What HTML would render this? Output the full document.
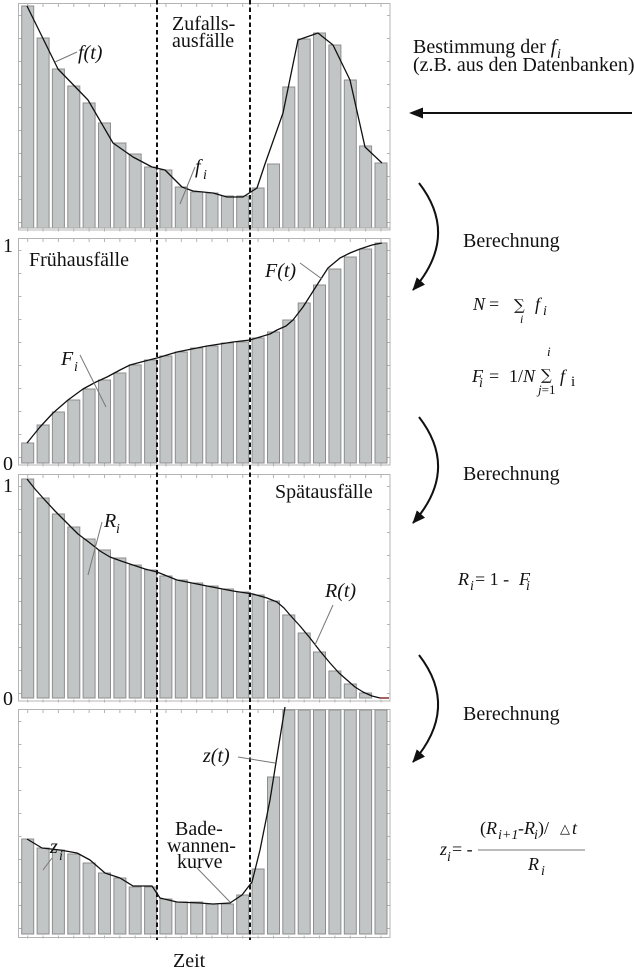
<!DOCTYPE html>
<html><head><meta charset="utf-8"><style>
html,body{margin:0;padding:0;background:#fff;}
svg{display:block}
text{font-family:"Liberation Serif","DejaVu Serif",serif;fill:#111}
.it{font-style:italic}
.lab{font-size:20px}
.sub{font-size:14px;font-style:italic}
.fm{font-size:18px}
.sig{font-family:"DejaVu Serif",serif;font-size:15px}
.bar rect{fill:#c2c5c5;stroke:#8e8e8e;stroke-width:1}
.frame{fill:none;stroke:#b4b4b4;stroke-width:1}
.tick{stroke:#b4b4b4;fill:none}
.curve{fill:none;stroke:#111;stroke-width:1.3;stroke-linejoin:round}
.lead{stroke:#777;stroke-width:1}
.dash{stroke:#111;stroke-width:2;stroke-dasharray:4.5 3}
</style></head><body>
<svg width="634" height="970" viewBox="0 0 634 970" xmlns="http://www.w3.org/2000/svg">
<defs>
<marker id="ah" markerUnits="userSpaceOnUse" markerWidth="14" markerHeight="11" refX="12" refY="5.5" orient="auto">
<path d="M0,0 L13,5.5 L0,11 z" fill="#111"/>
</marker>
</defs>

<!-- Frames -->
<rect class="frame" x="18.5" y="3.5" width="371.5" height="226.5"/>
<rect class="frame" x="18.5" y="238.5" width="371.5" height="226.5"/>
<rect class="frame" x="18.5" y="474.5" width="371.5" height="226.5"/>
<rect class="frame" x="18.5" y="709.5" width="371.5" height="228"/>

<!-- ticks -->
<g class="tick">
<line x1="27.2" y1="5.5" x2="389" y2="5.5" stroke-width="3" stroke-dasharray="1 14.36"/>
<line x1="27.2" y1="230" x2="389" y2="230" stroke-width="3" stroke-dasharray="1 14.36"/>
<line x1="27.2" y1="240.5" x2="389" y2="240.5" stroke-width="3" stroke-dasharray="1 14.36"/>
<line x1="27.2" y1="465" x2="389" y2="465" stroke-width="3" stroke-dasharray="1 14.36"/>
<line x1="27.2" y1="476.5" x2="389" y2="476.5" stroke-width="3" stroke-dasharray="1 14.36"/>
<line x1="27.2" y1="701" x2="389" y2="701" stroke-width="3" stroke-dasharray="1 14.36"/>
<line x1="27.2" y1="711.5" x2="389" y2="711.5" stroke-width="3" stroke-dasharray="1 14.36"/>
<line x1="27.2" y1="937" x2="389" y2="937" stroke-width="3" stroke-dasharray="1 14.36"/>
<line x1="388.5" y1="15" x2="388.5" y2="228" stroke-width="3" stroke-dasharray="1 22"/>
<line x1="20" y1="15" x2="20" y2="228" stroke-width="3" stroke-dasharray="1 22"/>
<line x1="388.5" y1="250" x2="388.5" y2="463" stroke-width="3" stroke-dasharray="1 22"/>
<line x1="20" y1="250" x2="20" y2="463" stroke-width="3" stroke-dasharray="1 22"/>
<line x1="388.5" y1="486" x2="388.5" y2="699" stroke-width="3" stroke-dasharray="1 22"/>
<line x1="20" y1="486" x2="20" y2="699" stroke-width="3" stroke-dasharray="1 22"/>
<line x1="388.5" y1="721" x2="388.5" y2="935" stroke-width="3" stroke-dasharray="1 22"/>
<line x1="20" y1="721" x2="20" y2="935" stroke-width="3" stroke-dasharray="1 22"/>
</g>

<!-- Panel 1 bars (bottom 228) -->
<g class="bar">
<rect x="21.7" y="6" width="12" height="222"/>
<rect x="37.1" y="38" width="12" height="190"/>
<rect x="52.4" y="69" width="12" height="159"/>
<rect x="67.8" y="86" width="12" height="142"/>
<rect x="83.1" y="103" width="12" height="125"/>
<rect x="98.5" y="123" width="12" height="105"/>
<rect x="113.9" y="143" width="12" height="85"/>
<rect x="129.2" y="154" width="12" height="74"/>
<rect x="144.6" y="167" width="12" height="61"/>
<rect x="159.9" y="170" width="12" height="58"/>
<rect x="175.3" y="187" width="12" height="41"/>
<rect x="190.7" y="192" width="12" height="36"/>
<rect x="206.0" y="193" width="12" height="35"/>
<rect x="221.4" y="196" width="12" height="32"/>
<rect x="236.7" y="196" width="12" height="32"/>
<rect x="252.1" y="188" width="12" height="40"/>
<rect x="267.5" y="164" width="12" height="64"/>
<rect x="282.8" y="87" width="12" height="141"/>
<rect x="298.2" y="39" width="12" height="189"/>
<rect x="313.5" y="33" width="12" height="195"/>
<rect x="328.9" y="45" width="12" height="183"/>
<rect x="344.3" y="80" width="12" height="148"/>
<rect x="359.6" y="146" width="12" height="82"/>
<rect x="375.0" y="163" width="12" height="65"/>
</g>
<line x1="18" y1="228" x2="390" y2="228" stroke="#aaa" stroke-width="1"/>

<!-- Panel 2 bars (bottom 463) -->
<g class="bar">
<rect x="21.7" y="443" width="12" height="20"/>
<rect x="37.1" y="425" width="12" height="38"/>
<rect x="52.4" y="412" width="12" height="51"/>
<rect x="67.8" y="400" width="12" height="63"/>
<rect x="83.1" y="389" width="12" height="74"/>
<rect x="98.5" y="380" width="12" height="83"/>
<rect x="113.9" y="373" width="12" height="90"/>
<rect x="129.2" y="365" width="12" height="98"/>
<rect x="144.6" y="360" width="12" height="103"/>
<rect x="159.9" y="356" width="12" height="107"/>
<rect x="175.3" y="352" width="12" height="111"/>
<rect x="190.7" y="348" width="12" height="115"/>
<rect x="206.0" y="346" width="12" height="117"/>
<rect x="221.4" y="343" width="12" height="120"/>
<rect x="236.7" y="342" width="12" height="121"/>
<rect x="252.1" y="338" width="12" height="125"/>
<rect x="267.5" y="332" width="12" height="131"/>
<rect x="282.8" y="320" width="12" height="143"/>
<rect x="298.2" y="303" width="12" height="160"/>
<rect x="313.5" y="285" width="12" height="178"/>
<rect x="328.9" y="269" width="12" height="194"/>
<rect x="344.3" y="257" width="12" height="206"/>
<rect x="359.6" y="249" width="12" height="214"/>
<rect x="375.0" y="243" width="12" height="220"/>
</g>

<!-- Panel 3 bars (bottom 698) -->
<g class="bar">
<rect x="21.7" y="479" width="12" height="219"/>
<rect x="37.1" y="498" width="12" height="200"/>
<rect x="52.4" y="514" width="12" height="184"/>
<rect x="67.8" y="527" width="12" height="171"/>
<rect x="83.1" y="539" width="12" height="159"/>
<rect x="98.5" y="550" width="12" height="148"/>
<rect x="113.9" y="558" width="12" height="140"/>
<rect x="129.2" y="565" width="12" height="133"/>
<rect x="144.6" y="570" width="12" height="128"/>
<rect x="159.9" y="576" width="12" height="122"/>
<rect x="175.3" y="580" width="12" height="118"/>
<rect x="190.7" y="583" width="12" height="115"/>
<rect x="206.0" y="586" width="12" height="112"/>
<rect x="221.4" y="589" width="12" height="109"/>
<rect x="236.7" y="592" width="12" height="106"/>
<rect x="252.1" y="595" width="12" height="103"/>
<rect x="267.5" y="601" width="12" height="97"/>
<rect x="282.8" y="615" width="12" height="83"/>
<rect x="298.2" y="633" width="12" height="65"/>
<rect x="313.5" y="652" width="12" height="46"/>
<rect x="328.9" y="671" width="12" height="27"/>
<rect x="344.3" y="684" width="12" height="14"/>
<rect x="359.6" y="693" width="12" height="5"/>
</g>
<line x1="380" y1="698" x2="389" y2="698" stroke="#8b2a2a" stroke-width="1.5"/>

<!-- Panel 4 bars (bottom 934) -->
<g class="bar">
<rect x="21.7" y="839" width="12" height="95"/>
<rect x="37.1" y="848" width="12" height="86"/>
<rect x="52.4" y="850" width="12" height="84"/>
<rect x="67.8" y="854" width="12" height="80"/>
<rect x="83.1" y="863" width="12" height="71"/>
<rect x="98.5" y="873" width="12" height="61"/>
<rect x="113.9" y="878" width="12" height="56"/>
<rect x="129.2" y="887" width="12" height="47"/>
<rect x="144.6" y="887" width="12" height="47"/>
<rect x="159.9" y="899" width="12" height="35"/>
<rect x="175.3" y="902" width="12" height="32"/>
<rect x="190.7" y="902" width="12" height="32"/>
<rect x="206.0" y="904" width="12" height="30"/>
<rect x="221.4" y="904" width="12" height="30"/>
<rect x="236.7" y="895" width="12" height="39"/>
<rect x="252.1" y="869" width="12" height="65"/>
<rect x="267.5" y="777" width="12" height="157"/>
<rect x="282.8" y="710" width="12" height="224"/>
<rect x="298.2" y="710" width="12" height="224"/>
<rect x="313.5" y="710" width="12" height="224"/>
<rect x="328.9" y="710" width="12" height="224"/>
<rect x="344.3" y="710" width="12" height="224"/>
<rect x="359.6" y="710" width="12" height="224"/>
<rect x="375.0" y="710" width="12" height="224"/>
</g>

<!-- Curves -->
<polyline class="curve" points="27,6 58,69 88,100 113,143 133,157 152,167 165,170 182,187 193,191 213,193 227,197 243,197 257,188 265,164 283,113 298,40 318,33 333,45 350,80 365,147 382,163"/>
<polyline class="curve" points="27,443 40,427 53,413 68,400 83,389 96,382 107,377 120,370 130,365 145,361 157,358 177,352 207,346 233,342 250,340 260,337 270,334 277,330 286,326 293,320 303,307 310,296 317,285 328,268 340,258 350,253 360,249 372,245 382,243"/>
<polyline class="curve" points="27,479 35,489 43,498 55,511 67,523 78,534 90,543 100,551 110,557 121,561 133,565 145,569 157,572 177,580 207,586 233,591 253,594 267,598 277,602 284,608 290,615 300,626 310,638 320,651 330,663 339,673 347,680 355,687 363,692 372,696 380,698"/>
<polyline class="curve" points="27,839 42,848 60,850 77,853 90,860 105,873 120,878 133,886 152,886 160,898 177,902 200,903 213,904 230,903 242,895 252,882 260,850 270,800 278,750 285,707"/>

<!-- Dashed separators -->
<line class="dash" x1="157" y1="0" x2="157" y2="940"/>
<line class="dash" x1="250" y1="0" x2="250" y2="940"/>

<!-- Leader lines -->
<g class="lead">
<line x1="55" y1="62" x2="77" y2="52"/>
<line x1="180" y1="204" x2="195" y2="167"/>
<line x1="300" y1="263" x2="322" y2="279"/>
<line x1="80" y1="355" x2="106" y2="407"/>
<line x1="102" y1="522" x2="88" y2="575"/>
<line x1="333" y1="605" x2="315" y2="645"/>
<line x1="238" y1="757" x2="275" y2="763"/>
<line x1="52" y1="858" x2="43" y2="870"/>
<line x1="197" y1="868" x2="230" y2="902"/>
</g>

<!-- Panel labels -->
<text class="lab" x="172" y="30">Zufalls-</text>
<text class="lab" x="172" y="47">ausfälle</text>
<text class="lab it" x="78" y="59">f(t)</text>
<text class="lab it" x="195" y="173">f</text><text class="sub" x="203" y="179">i</text>

<text class="lab" x="3" y="252">1</text>
<text class="lab" x="3" y="470">0</text>
<text class="lab" x="29" y="266">Frühausfälle</text>
<text class="lab it" x="265" y="277">F(t)</text>
<text class="lab it" x="61" y="365">F</text><text class="sub" x="74" y="371">i</text>

<text class="lab" x="3" y="492">1</text>
<text class="lab" x="3" y="705">0</text>
<text class="lab" x="275" y="498">Spätausfälle</text>
<text class="lab it" x="104" y="527">R</text><text class="sub" x="116" y="533">i</text>
<text class="lab it" x="325" y="597">R(t)</text>

<text class="lab it" x="203" y="762">z(t)</text>
<text class="lab it" x="50" y="853">z</text><text class="sub" x="59" y="860">i</text>
<text class="lab" x="175" y="835">Bade-</text>
<text class="lab" x="167" y="852">wannen-</text>
<text class="lab" x="177" y="868">kurve</text>
<text class="lab" x="173" y="967">Zeit</text>

<!-- Right side -->
<text class="lab" x="413" y="53">Bestimmung der <tspan class="it">f</tspan></text>
<text class="sub" x="557" y="58">i</text>
<text class="lab" x="413" y="71">(z.B. aus den Datenbanken)</text>

<line x1="632" y1="113" x2="420" y2="113" stroke="#111" stroke-width="2"/>
<polygon points="409,113 423,107.5 423,118.5" fill="#111"/>

<path d="M419,183 Q460,236 413,290" fill="none" stroke="#111" stroke-width="2" marker-end="url(#ah)"/>
<path d="M419,417 Q460,470 413,523" fill="none" stroke="#111" stroke-width="2" marker-end="url(#ah)"/>
<path d="M419,655 Q460,708 413,762" fill="none" stroke="#111" stroke-width="2" marker-end="url(#ah)"/>

<text class="lab" x="463" y="247">Berechnung</text>
<text class="lab" x="463" y="480">Berechnung</text>
<text class="lab" x="463" y="720">Berechnung</text>

<!-- N = sum f_i -->
<text class="fm it" x="473" y="310">N</text>
<text class="fm" x="489" y="310">=</text>
<text class="sig" x="514" y="310">∑</text>
<text class="sub" style="font-size:12px" x="520" y="323">i</text>
<text class="fm it" x="535" y="310">f</text>
<text class="sub" x="543" y="315">i</text>

<!-- F_i = 1/N sum f_i -->
<text class="fm it" x="472" y="382">F</text>
<text class="sub" x="479" y="387">i</text>
<text class="fm" x="489" y="382">=</text>
<text class="fm" x="509" y="382">1/<tspan class="it">N</tspan></text>
<text class="sig" x="541" y="380">∑</text>
<text class="sub" style="font-size:13px" x="547" y="356">i</text>
<text style="font-size:13px" x="538" y="394"><tspan class="it">j</tspan>=1</text>
<text class="fm it" x="560" y="382">f</text>
<text style="font-size:15px" x="571" y="386">i</text>

<!-- R_i = 1 - F_i -->
<text class="fm it" x="458" y="585">R</text>
<text class="sub" x="470" y="590">i</text>
<text class="fm" x="475" y="585">= 1 - </text>
<text class="fm it" x="519" y="585">F</text>
<text class="sub" x="526" y="590">i</text>

<!-- z_i formula -->
<text class="fm it" x="440" y="855">z</text>
<text class="sub" x="447" y="861">i</text>
<text class="fm" x="452" y="855">= -</text>
<line x1="478" y1="850" x2="585" y2="850" stroke="#777" stroke-width="1"/>
<text class="fm" x="480" y="834">(<tspan class="it">R</tspan></text>
<text class="sub" x="498" y="839">i+1</text>
<text class="fm" x="518" y="834">-<tspan class="it">R</tspan></text>
<text class="sub" x="534" y="839">i</text>
<text class="fm" x="538" y="834">)/</text>
<text style="font-size:13px;font-family:'DejaVu Sans',sans-serif" x="560" y="833">△</text>
<text class="fm it" x="572" y="834">t</text>
<text class="fm it" x="528" y="870">R</text>
<text class="sub" x="541" y="875">i</text>
</svg>
</body></html>
